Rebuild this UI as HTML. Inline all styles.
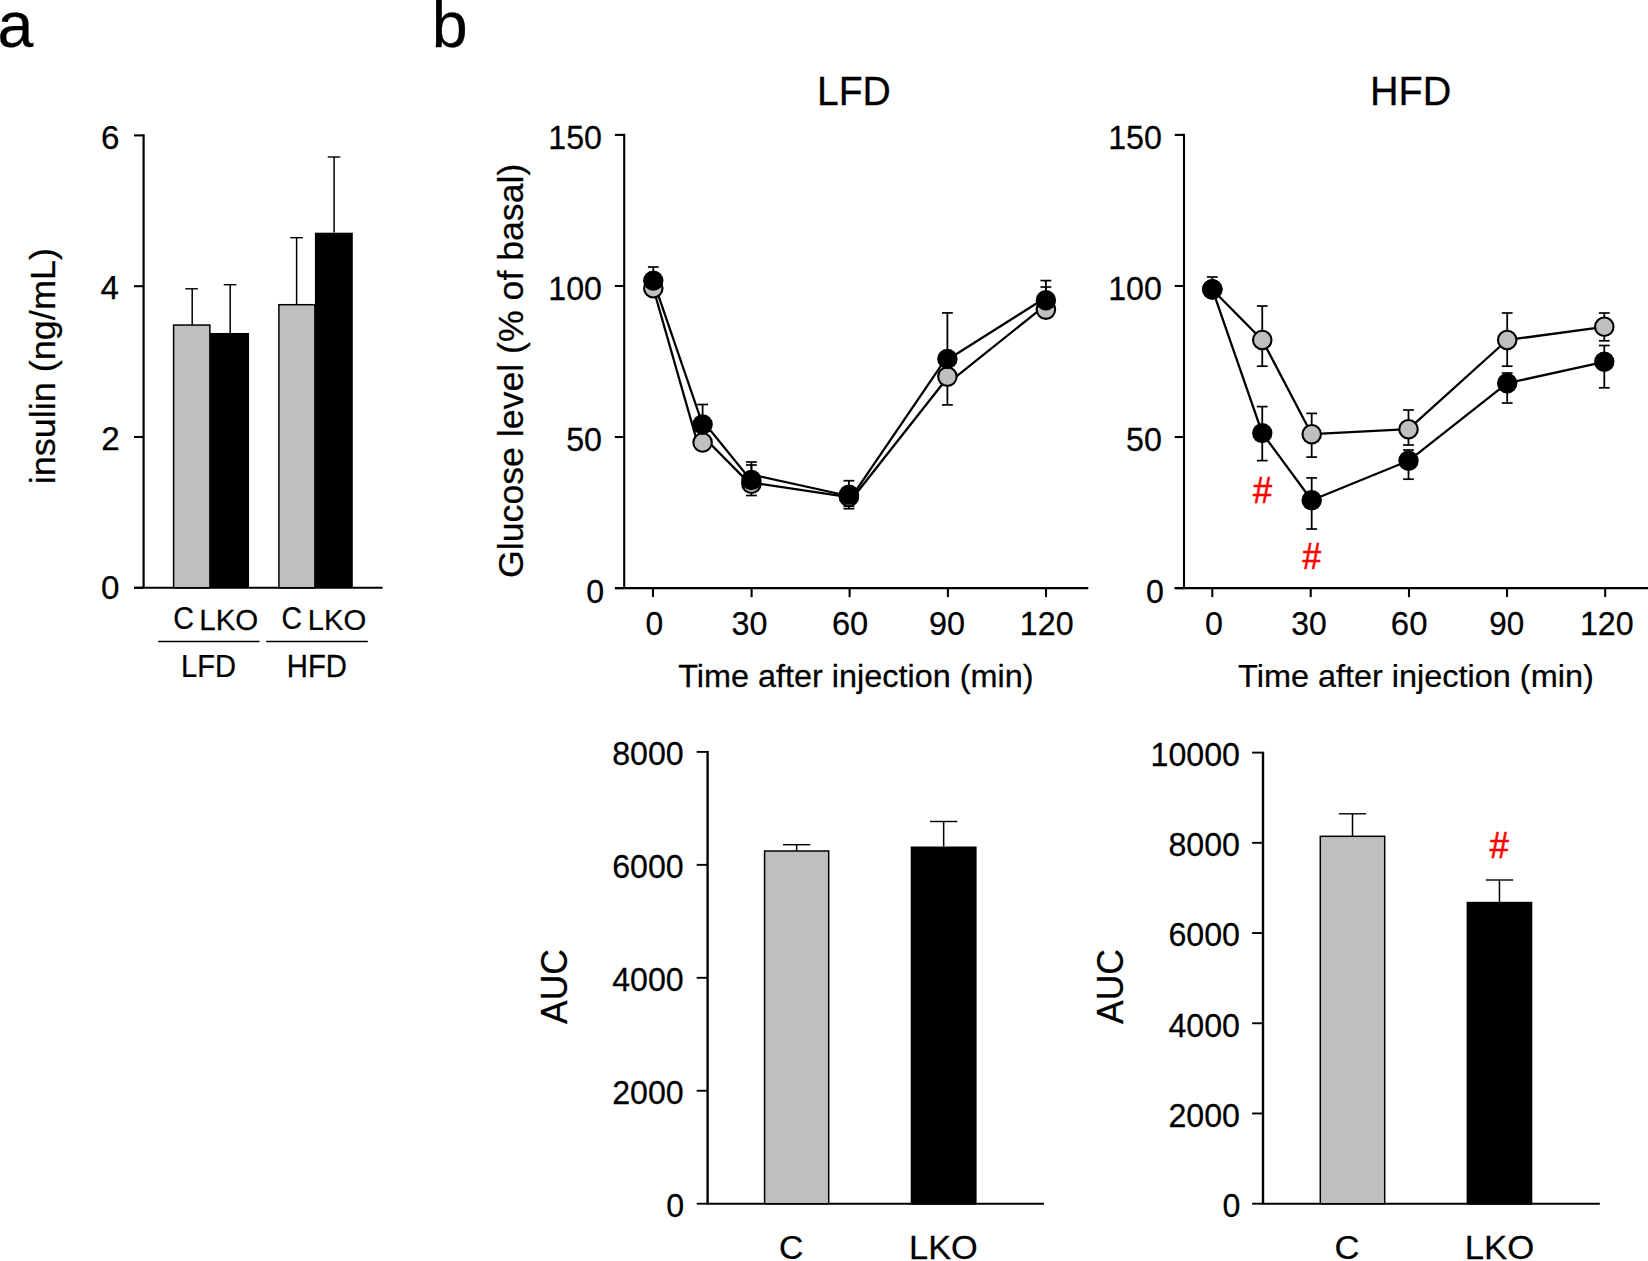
<!DOCTYPE html>
<html lang="en"><head><meta charset="utf-8"><title>Figure</title>
<style>
html,body{margin:0;padding:0;background:#fff;}
body{width:1648px;height:1261px;overflow:hidden;}
svg{display:block;}
svg text{font-family:"Liberation Sans",Arial,Helvetica,sans-serif;stroke:#000;stroke-width:0.25px;}
</style></head><body>
<svg width="1648" height="1261" viewBox="0 0 1648 1261">
<rect x="0" y="0" width="1648" height="1261" fill="#fff"/>
<text x="-2.4" y="46.85" font-size="64.6">a</text>
<text x="431.7" y="46.85" font-size="64.6">b</text>
<line x1="143.6" y1="134.35" x2="143.6" y2="587.8" stroke="#000" stroke-width="2.2"/>
<line x1="134" y1="587.8" x2="382.6" y2="587.8" stroke="#000" stroke-width="2.1"/>
<line x1="134" y1="587.8" x2="143.6" y2="587.8" stroke="#000" stroke-width="2.1"/>
<text transform="translate(100.93 598.8) scale(1.0000 1)" font-size="33.2">0</text>
<line x1="134" y1="437" x2="143.6" y2="437" stroke="#000" stroke-width="2.1"/>
<text transform="translate(101.31 449.5) scale(1.0000 1)" font-size="33.2">2</text>
<line x1="134" y1="286.2" x2="143.6" y2="286.2" stroke="#000" stroke-width="2.1"/>
<text transform="translate(100.61 299.4) scale(1.0000 1)" font-size="33.2">4</text>
<line x1="134" y1="135.4" x2="143.6" y2="135.4" stroke="#000" stroke-width="2.1"/>
<text transform="translate(101.09 149.4) scale(1.0000 1)" font-size="33.2">6</text>
<line x1="192.2" y1="288.8" x2="192.2" y2="325" stroke="#000" stroke-width="1.5"/>
<line x1="185.3" y1="288.8" x2="197.9" y2="288.8" stroke="#000" stroke-width="1.4"/>
<line x1="230.2" y1="284.7" x2="230.2" y2="333" stroke="#000" stroke-width="1.5"/>
<line x1="223.7" y1="284.7" x2="236.4" y2="284.7" stroke="#000" stroke-width="1.4"/>
<line x1="296.6" y1="237.7" x2="296.6" y2="304.6" stroke="#000" stroke-width="1.5"/>
<line x1="290.2" y1="237.7" x2="302.8" y2="237.7" stroke="#000" stroke-width="1.4"/>
<line x1="334.1" y1="157" x2="334.1" y2="232.6" stroke="#000" stroke-width="1.5"/>
<line x1="327.7" y1="157" x2="340.3" y2="157" stroke="#000" stroke-width="1.4"/>
<rect x="173.6" y="325.05" width="36.3" height="262.75" fill="#bfbfbf" stroke="#000" stroke-width="1.5"/>
<rect x="209.9" y="332.95" width="39.15" height="254.85" fill="#000"/>
<rect x="278.9" y="304.7" width="36" height="283.1" fill="#bfbfbf" stroke="#000" stroke-width="1.5"/>
<rect x="314.9" y="232.7" width="37.9" height="355.1" fill="#000"/>
<text transform="translate(173.29 629.1) scale(0.9245 1)" font-size="31">C</text>
<text transform="translate(199.28 630.2) scale(0.9736 1)" font-size="30.3">LKO</text>
<text transform="translate(281.56 629.1) scale(0.9118 1)" font-size="31">C</text>
<text transform="translate(307.7 630.2) scale(0.9666 1)" font-size="30.3">LKO</text>
<line x1="158.2" y1="641.5" x2="259.5" y2="641.5" stroke="#000" stroke-width="1.7"/>
<line x1="266.2" y1="641.5" x2="367.8" y2="641.5" stroke="#000" stroke-width="1.7"/>
<text transform="translate(181.11 676.6) scale(0.9498 1)" font-size="30.7">LFD</text>
<text transform="translate(286.8 676.6) scale(0.9542 1)" font-size="30.7">HFD</text>
<text transform="translate(55.2 484.31) rotate(-90) scale(1.0011 1)" font-size="36">insulin (ng/mL)</text>
<line x1="624.2" y1="133.85" x2="624.2" y2="588.1" stroke="#000" stroke-width="2.1"/>
<line x1="614.9" y1="588.1" x2="1088.3" y2="588.1" stroke="#000" stroke-width="2.1"/>
<line x1="614.9" y1="588.1" x2="624.2" y2="588.1" stroke="#000" stroke-width="2.1"/>
<text transform="translate(586.36 602.8) scale(0.9750 1)" font-size="33">0</text>
<line x1="614.9" y1="437.03" x2="624.2" y2="437.03" stroke="#000" stroke-width="2.1"/>
<text transform="translate(566.17 450.7) scale(0.9750 1)" font-size="33">50</text>
<line x1="614.9" y1="285.97" x2="624.2" y2="285.97" stroke="#000" stroke-width="2.1"/>
<text transform="translate(548.27 300) scale(0.9750 1)" font-size="33">100</text>
<line x1="614.9" y1="134.9" x2="624.2" y2="134.9" stroke="#000" stroke-width="2.1"/>
<text transform="translate(548.27 148.8) scale(0.9750 1)" font-size="33">150</text>
<line x1="653" y1="588.1" x2="653" y2="597.1" stroke="#000" stroke-width="2.1"/>
<line x1="751.6" y1="588.1" x2="751.6" y2="597.1" stroke="#000" stroke-width="2.1"/>
<line x1="849.6" y1="588.1" x2="849.6" y2="597.1" stroke="#000" stroke-width="2.1"/>
<line x1="947.9" y1="588.1" x2="947.9" y2="597.1" stroke="#000" stroke-width="2.1"/>
<line x1="1046" y1="588.1" x2="1046" y2="597.1" stroke="#000" stroke-width="2.1"/>
<text transform="translate(645.56 635.4) scale(0.9636 1)" font-size="33">0</text>
<text transform="translate(731.57 635.4) scale(0.9777 1)" font-size="33">30</text>
<text transform="translate(831.89 635.4) scale(0.9884 1)" font-size="33">60</text>
<text transform="translate(929.08 635.4) scale(0.9802 1)" font-size="33">90</text>
<text transform="translate(1019.87 635.4) scale(0.9750 1)" font-size="33">120</text>
<text transform="translate(816.89 105.1) scale(0.9680 1)" font-size="40.4">LFD</text>
<text transform="translate(678.22 686.8) scale(1.0065 1)" font-size="32.2">Time after injection (min)</text>
<line x1="702.6" y1="436" x2="702.6" y2="449" stroke="#000" stroke-width="1.8"/>
<line x1="751.4" y1="465" x2="751.4" y2="495.5" stroke="#000" stroke-width="1.8"/>
<line x1="746" y1="465" x2="756.8" y2="465" stroke="#000" stroke-width="1.7"/>
<line x1="746" y1="495.5" x2="756.8" y2="495.5" stroke="#000" stroke-width="1.7"/>
<line x1="848.9" y1="486" x2="848.9" y2="508.7" stroke="#000" stroke-width="1.8"/>
<line x1="843.5" y1="508.7" x2="854.3" y2="508.7" stroke="#000" stroke-width="1.7"/>
<line x1="947.4" y1="360" x2="947.4" y2="404.9" stroke="#000" stroke-width="1.8"/>
<line x1="942" y1="404.9" x2="952.8" y2="404.9" stroke="#000" stroke-width="1.7"/>
<line x1="1045.9" y1="287" x2="1045.9" y2="312" stroke="#000" stroke-width="1.8"/>
<line x1="1040.5" y1="287" x2="1051.3" y2="287" stroke="#000" stroke-width="1.7"/>
<line x1="653.3" y1="267" x2="653.3" y2="281" stroke="#000" stroke-width="1.8"/>
<line x1="647.9" y1="267" x2="658.7" y2="267" stroke="#000" stroke-width="1.7"/>
<line x1="702.6" y1="404.5" x2="702.6" y2="425" stroke="#000" stroke-width="1.8"/>
<line x1="697.2" y1="404.5" x2="708" y2="404.5" stroke="#000" stroke-width="1.7"/>
<line x1="751.4" y1="462" x2="751.4" y2="490" stroke="#000" stroke-width="1.8"/>
<line x1="746" y1="462" x2="756.8" y2="462" stroke="#000" stroke-width="1.7"/>
<line x1="848.9" y1="480.7" x2="848.9" y2="506.3" stroke="#000" stroke-width="1.8"/>
<line x1="843.5" y1="480.7" x2="854.3" y2="480.7" stroke="#000" stroke-width="1.7"/>
<line x1="843.5" y1="506.3" x2="854.3" y2="506.3" stroke="#000" stroke-width="1.7"/>
<line x1="947.4" y1="312.9" x2="947.4" y2="360" stroke="#000" stroke-width="1.8"/>
<line x1="942" y1="312.9" x2="952.8" y2="312.9" stroke="#000" stroke-width="1.7"/>
<line x1="1045.9" y1="280.6" x2="1045.9" y2="300" stroke="#000" stroke-width="1.8"/>
<line x1="1040.5" y1="280.6" x2="1051.3" y2="280.6" stroke="#000" stroke-width="1.7"/>
<line x1="653.3" y1="280.6" x2="702.6" y2="424.5" stroke="#000" stroke-width="2.3"/>
<line x1="653.3" y1="288.2" x2="697.4" y2="442.5" stroke="#000" stroke-width="2.3"/>
<line x1="702.6" y1="420.8" x2="751.4" y2="480.9" stroke="#000" stroke-width="2.3"/>
<line x1="702.6" y1="436" x2="751.4" y2="485.4" stroke="#000" stroke-width="2.3"/>
<line x1="751.4" y1="474.6" x2="848.9" y2="496" stroke="#000" stroke-width="2.3"/>
<line x1="751.4" y1="482.6" x2="848.9" y2="497.1" stroke="#000" stroke-width="2.3"/>
<line x1="848.9" y1="500.8" x2="947.4" y2="356.3" stroke="#000" stroke-width="2.3"/>
<line x1="848.9" y1="502.7" x2="947.4" y2="377.8" stroke="#000" stroke-width="2.3"/>
<line x1="947.4" y1="359.7" x2="1045.9" y2="297.5" stroke="#000" stroke-width="2.3"/>
<line x1="947.4" y1="383.7" x2="1045.9" y2="304.8" stroke="#000" stroke-width="2.3"/>
<circle cx="653.3" cy="288.2" r="9.25" fill="#bfbfbf" stroke="#000" stroke-width="2.1"/>
<circle cx="702.6" cy="442.5" r="9.25" fill="#bfbfbf" stroke="#000" stroke-width="2.1"/>
<circle cx="751.4" cy="483.8" r="9.25" fill="#bfbfbf" stroke="#000" stroke-width="2.1"/>
<circle cx="848.9" cy="496.8" r="9.25" fill="#bfbfbf" stroke="#000" stroke-width="2.1"/>
<circle cx="947.4" cy="376.6" r="9.25" fill="#bfbfbf" stroke="#000" stroke-width="2.1"/>
<circle cx="1045.9" cy="309.6" r="9.25" fill="#bfbfbf" stroke="#000" stroke-width="2.1"/>
<circle cx="653.3" cy="280.6" r="10.2" fill="#000"/>
<circle cx="702.6" cy="424.5" r="10.2" fill="#000"/>
<circle cx="751.4" cy="480" r="10.2" fill="#000"/>
<circle cx="848.9" cy="494.6" r="10.2" fill="#000"/>
<circle cx="947.4" cy="358.9" r="10.2" fill="#000"/>
<circle cx="1045.9" cy="300.2" r="10.2" fill="#000"/>
<text transform="translate(522.8 577.89) rotate(-90) scale(1.0019 1)" font-size="35.6">Glucose level (% of basal)</text>
<line x1="1184" y1="133.85" x2="1184" y2="588.1" stroke="#000" stroke-width="2.1"/>
<line x1="1174.7" y1="588.1" x2="1648" y2="588.1" stroke="#000" stroke-width="2.1"/>
<line x1="1174.7" y1="588.1" x2="1184" y2="588.1" stroke="#000" stroke-width="2.1"/>
<text transform="translate(1145.96 602.8) scale(0.9750 1)" font-size="33">0</text>
<line x1="1174.7" y1="437.03" x2="1184" y2="437.03" stroke="#000" stroke-width="2.1"/>
<text transform="translate(1126.07 450.7) scale(0.9750 1)" font-size="33">50</text>
<line x1="1174.7" y1="285.97" x2="1184" y2="285.97" stroke="#000" stroke-width="2.1"/>
<text transform="translate(1108.17 300) scale(0.9750 1)" font-size="33">100</text>
<line x1="1174.7" y1="134.9" x2="1184" y2="134.9" stroke="#000" stroke-width="2.1"/>
<text transform="translate(1108.17 148.8) scale(0.9750 1)" font-size="33">150</text>
<line x1="1212.3" y1="588.1" x2="1212.3" y2="597.1" stroke="#000" stroke-width="2.1"/>
<line x1="1310.7" y1="588.1" x2="1310.7" y2="597.1" stroke="#000" stroke-width="2.1"/>
<line x1="1409" y1="588.1" x2="1409" y2="597.1" stroke="#000" stroke-width="2.1"/>
<line x1="1507" y1="588.1" x2="1507" y2="597.1" stroke="#000" stroke-width="2.1"/>
<line x1="1605.2" y1="588.1" x2="1605.2" y2="597.1" stroke="#000" stroke-width="2.1"/>
<text transform="translate(1205.04 635.4) scale(0.9762 1)" font-size="33">0</text>
<text transform="translate(1291.29 635.4) scale(0.9631 1)" font-size="33">30</text>
<text transform="translate(1390.83 635.4) scale(0.9988 1)" font-size="33">60</text>
<text transform="translate(1489.33 635.4) scale(0.9507 1)" font-size="33">90</text>
<text transform="translate(1579.97 635.4) scale(0.9750 1)" font-size="33">120</text>
<text transform="translate(1370.06 105.1) scale(0.9790 1)" font-size="40.4">HFD</text>
<text transform="translate(1238.07 686.8) scale(1.0075 1)" font-size="32.2">Time after injection (min)</text>
<line x1="1262.25" y1="306" x2="1262.25" y2="366.2" stroke="#000" stroke-width="1.8"/>
<line x1="1256.85" y1="306" x2="1267.65" y2="306" stroke="#000" stroke-width="1.7"/>
<line x1="1256.85" y1="366.2" x2="1267.65" y2="366.2" stroke="#000" stroke-width="1.7"/>
<line x1="1311.7" y1="413.4" x2="1311.7" y2="457.1" stroke="#000" stroke-width="1.8"/>
<line x1="1306.3" y1="413.4" x2="1317.1" y2="413.4" stroke="#000" stroke-width="1.7"/>
<line x1="1306.3" y1="457.1" x2="1317.1" y2="457.1" stroke="#000" stroke-width="1.7"/>
<line x1="1408.5" y1="410" x2="1408.5" y2="445" stroke="#000" stroke-width="1.8"/>
<line x1="1403.1" y1="410" x2="1413.9" y2="410" stroke="#000" stroke-width="1.7"/>
<line x1="1403.1" y1="445" x2="1413.9" y2="445" stroke="#000" stroke-width="1.7"/>
<line x1="1507.2" y1="313" x2="1507.2" y2="366.2" stroke="#000" stroke-width="1.8"/>
<line x1="1501.8" y1="313" x2="1512.6" y2="313" stroke="#000" stroke-width="1.7"/>
<line x1="1501.8" y1="366.2" x2="1512.6" y2="366.2" stroke="#000" stroke-width="1.7"/>
<line x1="1604.3" y1="313" x2="1604.3" y2="340.8" stroke="#000" stroke-width="1.8"/>
<line x1="1598.9" y1="313" x2="1609.7" y2="313" stroke="#000" stroke-width="1.7"/>
<line x1="1598.9" y1="340.8" x2="1609.7" y2="340.8" stroke="#000" stroke-width="1.7"/>
<line x1="1212.3" y1="277" x2="1212.3" y2="290" stroke="#000" stroke-width="1.8"/>
<line x1="1206.9" y1="277" x2="1217.7" y2="277" stroke="#000" stroke-width="1.7"/>
<line x1="1262.25" y1="406.6" x2="1262.25" y2="460.6" stroke="#000" stroke-width="1.8"/>
<line x1="1256.85" y1="406.6" x2="1267.65" y2="406.6" stroke="#000" stroke-width="1.7"/>
<line x1="1256.85" y1="460.6" x2="1267.65" y2="460.6" stroke="#000" stroke-width="1.7"/>
<line x1="1311.7" y1="477.9" x2="1311.7" y2="529" stroke="#000" stroke-width="1.8"/>
<line x1="1306.3" y1="477.9" x2="1317.1" y2="477.9" stroke="#000" stroke-width="1.7"/>
<line x1="1306.3" y1="529" x2="1317.1" y2="529" stroke="#000" stroke-width="1.7"/>
<line x1="1408.5" y1="450" x2="1408.5" y2="479.2" stroke="#000" stroke-width="1.8"/>
<line x1="1403.1" y1="450" x2="1413.9" y2="450" stroke="#000" stroke-width="1.7"/>
<line x1="1403.1" y1="479.2" x2="1413.9" y2="479.2" stroke="#000" stroke-width="1.7"/>
<line x1="1507.2" y1="373" x2="1507.2" y2="403" stroke="#000" stroke-width="1.8"/>
<line x1="1501.8" y1="373" x2="1512.6" y2="373" stroke="#000" stroke-width="1.7"/>
<line x1="1501.8" y1="403" x2="1512.6" y2="403" stroke="#000" stroke-width="1.7"/>
<line x1="1604.3" y1="345.5" x2="1604.3" y2="387.8" stroke="#000" stroke-width="1.8"/>
<line x1="1598.9" y1="345.5" x2="1609.7" y2="345.5" stroke="#000" stroke-width="1.7"/>
<line x1="1598.9" y1="387.8" x2="1609.7" y2="387.8" stroke="#000" stroke-width="1.7"/>
<polyline points="1212.3,289.5 1262.25,340 1311.7,434.2 1408.5,429.2 1507.2,340 1604.3,326.8" fill="none" stroke="#000" stroke-width="2.3" stroke-linejoin="round"/>
<polyline points="1212.3,289.2 1262.25,433.1 1311.7,500.3 1408.5,460.8 1507.2,383.2 1604.3,361.8" fill="none" stroke="#000" stroke-width="2.3" stroke-linejoin="round"/>
<circle cx="1212.3" cy="289.5" r="9.25" fill="#bfbfbf" stroke="#000" stroke-width="2.1"/>
<circle cx="1262.25" cy="340" r="9.25" fill="#bfbfbf" stroke="#000" stroke-width="2.1"/>
<circle cx="1311.7" cy="434.2" r="9.25" fill="#bfbfbf" stroke="#000" stroke-width="2.1"/>
<circle cx="1408.5" cy="429.2" r="9.25" fill="#bfbfbf" stroke="#000" stroke-width="2.1"/>
<circle cx="1507.2" cy="340" r="9.25" fill="#bfbfbf" stroke="#000" stroke-width="2.1"/>
<circle cx="1604.3" cy="326.8" r="9.25" fill="#bfbfbf" stroke="#000" stroke-width="2.1"/>
<circle cx="1212.3" cy="289.2" r="10.2" fill="#000"/>
<circle cx="1262.25" cy="433.1" r="10.2" fill="#000"/>
<circle cx="1311.7" cy="500.3" r="10.2" fill="#000"/>
<circle cx="1408.5" cy="460.8" r="10.2" fill="#000"/>
<circle cx="1507.2" cy="383.2" r="10.2" fill="#000"/>
<circle cx="1604.3" cy="361.8" r="10.2" fill="#000"/>
<text transform="translate(1253.05 502.8) scale(0.9242 1)" font-size="37" style="fill:#ff0000;stroke:#ff0000;stroke-width:0.7px">#</text>
<text transform="translate(1302.55 569.1) scale(0.8995 1)" font-size="37" style="fill:#ff0000;stroke:#ff0000;stroke-width:0.7px">#</text>
<line x1="707.6" y1="751.1" x2="707.6" y2="1203.7" stroke="#000" stroke-width="2.4"/>
<line x1="706.4" y1="1203.7" x2="1044" y2="1203.7" stroke="#000" stroke-width="2.1"/>
<line x1="696.7" y1="1203.7" x2="707.6" y2="1203.7" stroke="#000" stroke-width="1.9"/>
<text transform="translate(666.26 1217) scale(0.9750 1)" font-size="33">0</text>
<line x1="696.7" y1="1090.75" x2="707.6" y2="1090.75" stroke="#000" stroke-width="1.9"/>
<text transform="translate(612.18 1104.05) scale(0.9750 1)" font-size="33">2000</text>
<line x1="696.7" y1="977.8" x2="707.6" y2="977.8" stroke="#000" stroke-width="1.9"/>
<text transform="translate(612.18 991.1) scale(0.9750 1)" font-size="33">4000</text>
<line x1="696.7" y1="864.85" x2="707.6" y2="864.85" stroke="#000" stroke-width="1.9"/>
<text transform="translate(612.18 878.15) scale(0.9750 1)" font-size="33">6000</text>
<line x1="696.7" y1="751.9" x2="707.6" y2="751.9" stroke="#000" stroke-width="1.9"/>
<text transform="translate(612.18 765.2) scale(0.9750 1)" font-size="33">8000</text>
<line x1="796.65" y1="844.7" x2="796.65" y2="851" stroke="#000" stroke-width="1.5"/>
<line x1="782.95" y1="844.7" x2="810.35" y2="844.7" stroke="#000" stroke-width="1.4"/>
<rect x="764.6" y="851" width="64.1" height="352.7" fill="#bfbfbf" stroke="#000" stroke-width="1.5"/>
<line x1="943.65" y1="821.5" x2="943.65" y2="846.5" stroke="#000" stroke-width="1.5"/>
<line x1="929.95" y1="821.5" x2="957.35" y2="821.5" stroke="#000" stroke-width="1.4"/>
<rect x="910.7" y="846.5" width="65.9" height="358.2" fill="#000"/>
<text transform="translate(779.08 1259.2) scale(0.9939 1)" font-size="34">C</text>
<text transform="translate(909.08 1259.3) scale(1.0107 1)" font-size="34">LKO</text>
<text transform="translate(567.1 1024.02) rotate(-90) scale(0.9623 1)" font-size="36.9">AUC</text>
<line x1="1263" y1="751.8" x2="1263" y2="1203.7" stroke="#000" stroke-width="2.4"/>
<line x1="1261.8" y1="1203.7" x2="1599.8" y2="1203.7" stroke="#000" stroke-width="2.1"/>
<line x1="1252.1" y1="1203.7" x2="1263" y2="1203.7" stroke="#000" stroke-width="1.9"/>
<text transform="translate(1222.46 1217) scale(0.9750 1)" font-size="33">0</text>
<line x1="1252.1" y1="1113.48" x2="1263" y2="1113.48" stroke="#000" stroke-width="1.9"/>
<text transform="translate(1168.38 1126.78) scale(0.9750 1)" font-size="33">2000</text>
<line x1="1252.1" y1="1023.26" x2="1263" y2="1023.26" stroke="#000" stroke-width="1.9"/>
<text transform="translate(1168.38 1036.56) scale(0.9750 1)" font-size="33">4000</text>
<line x1="1252.1" y1="933.04" x2="1263" y2="933.04" stroke="#000" stroke-width="1.9"/>
<text transform="translate(1168.38 946.34) scale(0.9750 1)" font-size="33">6000</text>
<line x1="1252.1" y1="842.82" x2="1263" y2="842.82" stroke="#000" stroke-width="1.9"/>
<text transform="translate(1168.38 856.12) scale(0.9750 1)" font-size="33">8000</text>
<line x1="1252.1" y1="752.6" x2="1263" y2="752.6" stroke="#000" stroke-width="1.9"/>
<text transform="translate(1150.49 765.9) scale(0.9750 1)" font-size="33">10000</text>
<line x1="1352.5" y1="813.8" x2="1352.5" y2="836.3" stroke="#000" stroke-width="1.5"/>
<line x1="1338.8" y1="813.8" x2="1366.2" y2="813.8" stroke="#000" stroke-width="1.4"/>
<rect x="1320.3" y="836.3" width="64.4" height="367.4" fill="#bfbfbf" stroke="#000" stroke-width="1.5"/>
<line x1="1499.45" y1="880" x2="1499.45" y2="901.8" stroke="#000" stroke-width="1.5"/>
<line x1="1485.75" y1="880" x2="1513.15" y2="880" stroke="#000" stroke-width="1.4"/>
<rect x="1466.6" y="901.8" width="65.7" height="302.9" fill="#000"/>
<text transform="translate(1334.54 1259.2) scale(1.0171 1)" font-size="34">C</text>
<text transform="translate(1464.65 1259.3) scale(1.0217 1)" font-size="34">LKO</text>
<text transform="translate(1123.2 1024.02) rotate(-90) scale(0.9623 1)" font-size="36.9">AUC</text>
<text transform="translate(1489.75 858.2) scale(0.9242 1)" font-size="37" style="fill:#ff0000;stroke:#ff0000;stroke-width:0.7px">#</text>
</svg>
</body></html>
